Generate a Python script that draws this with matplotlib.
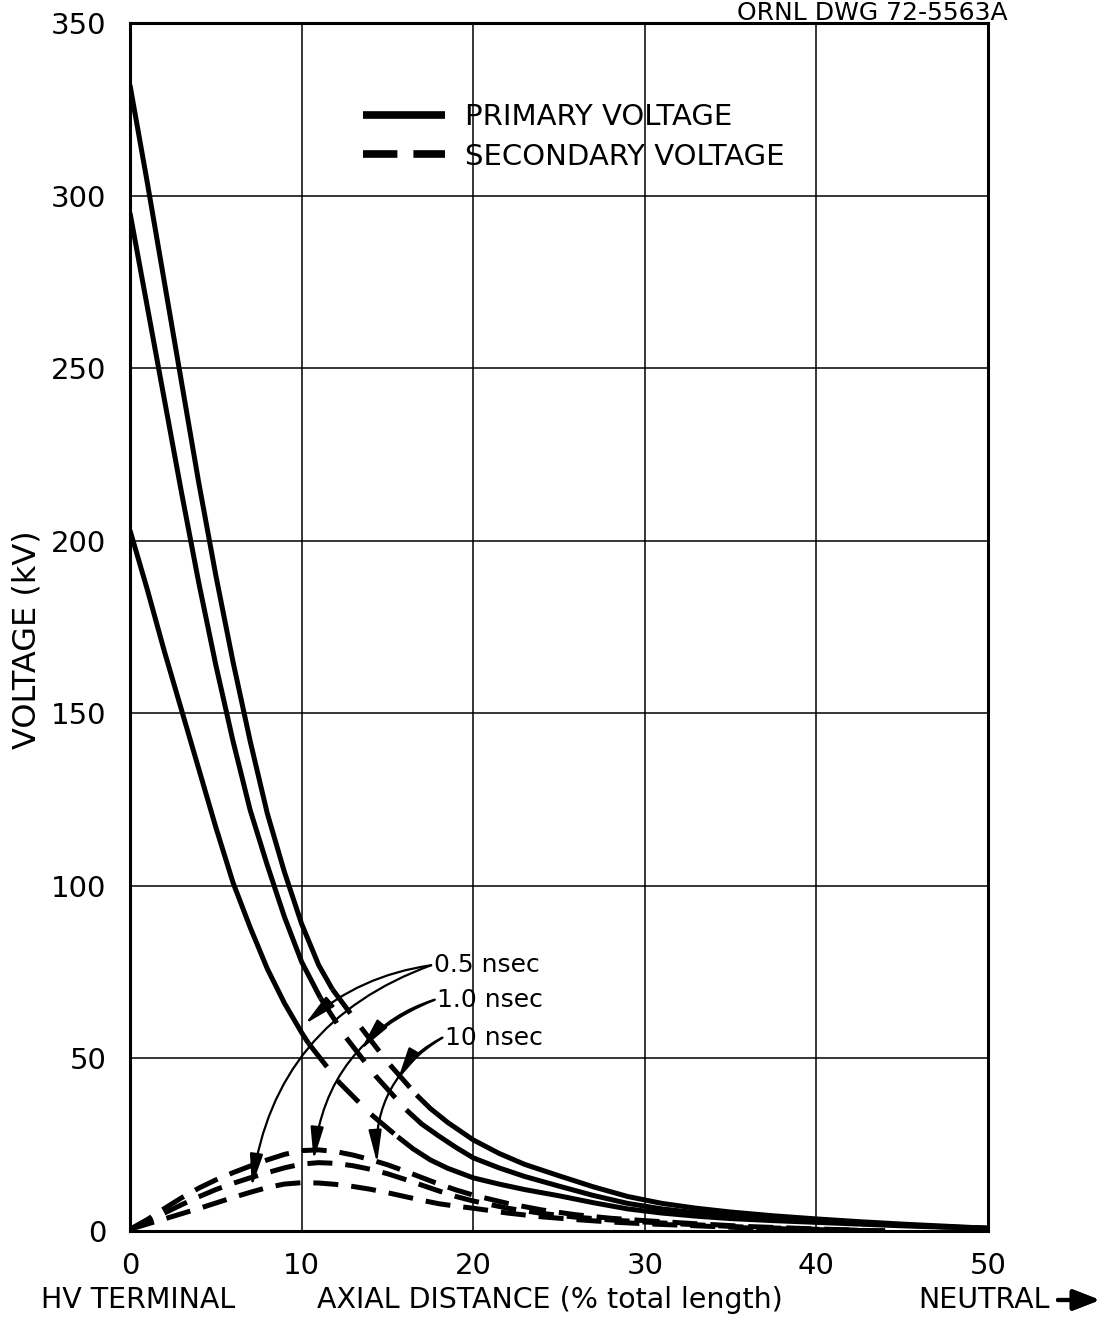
#Axial voltage distribution along the winding, primary vs secondary, for three rise times
#Values.

import matplotlib.pyplot as plt
from matplotlib.lines import Line2D

# -----------------------------
# Data
# -----------------------------
# primary voltage: solid near the HV terminal, dashed through the middle, solid tail
p05_head_x = [0, 1, 2, 3, 4, 5, 6, 7, 8, 9, 10, 10.4]
p05_head_y = [203, 186, 168, 151, 134, 117, 101, 88, 76, 66, 57.5, 54.4]
p05_mid_x = [10.4, 12.2, 14.0, 15.6]
p05_mid_y = [54.4, 43.0, 34.0, 27.3]
p05_tail_x = [15.6, 16.5, 17.5, 18.5, 20, 21.5, 23, 25, 27, 29, 31, 33, 35, 37.5, 40, 42.5, 45, 47.5, 50]
p05_tail_y = [27.3, 23.8, 20.6, 18.2, 15.4, 13.6, 12.0, 10.2, 8.2, 6.4, 5.2, 4.3, 3.6, 3.0, 2.5, 2.0, 1.5, 1.1, 0.8]

p10_head_x = [0, 1, 2, 3, 4, 5, 6, 7, 8, 9, 10, 11.1]
p10_head_y = [295, 268, 241, 214, 188, 164, 142, 122, 106, 91, 78, 67.5]
p10_mid_x = [11.1, 12.6, 14.3, 16.1]
p10_mid_y = [67.5, 56.0, 45.0, 35.1]
p10_tail_x = [16.1, 17, 18, 19, 20, 21.5, 23, 25, 27, 29, 31, 33, 35, 37.5, 40, 42.5, 45, 47.5, 50]
p10_tail_y = [35.1, 31.0, 27.5, 24.2, 21.2, 18.3, 15.8, 13.0, 10.3, 8.0, 6.4, 5.3, 4.4, 3.6, 2.9, 2.3, 1.7, 1.2, 0.8]

p100_head_x = [0, 1, 2, 3, 4, 5, 6, 7, 8, 9, 10, 11, 11.8]
p100_head_y = [332, 304, 275, 246, 217, 190, 165, 142, 121, 104, 89, 77, 70]
p100_mid_x = [11.8, 13.3, 15.0, 16.7]
p100_mid_y = [70.0, 60.0, 49.0, 39.4]
p100_tail_x = [16.7, 17.5, 18.5, 20, 21.5, 23, 25, 27, 29, 31, 33, 35, 37.5, 40, 42.5, 45, 47.5, 50]
p100_tail_y = [39.4, 35.5, 31.5, 26.4, 22.5, 19.3, 16.0, 12.8, 10.0, 8.0, 6.6, 5.5, 4.4, 3.5, 2.7, 2.0, 1.4, 0.8]

# secondary voltage
sec_x = [0, 1, 2, 3, 4, 5, 6, 7, 8, 9, 10, 11, 12, 13, 14, 15, 16, 17, 18, 19, 20,
         22, 24, 26, 28, 30, 33, 36, 40, 44]
s05_y = [0.5, 2.0, 3.5, 5.0, 6.5, 8.1, 9.7, 11.2, 12.6, 13.6, 14.0, 13.9, 13.5, 12.9, 12.1,
         11.1, 10.0, 8.9, 7.9, 7.2, 6.6, 5.2, 4.1, 3.3, 2.6, 2.1, 1.5, 0.9, 0.4, 0]
s10_y = [0.5, 2.8, 5.2, 7.6, 9.9, 12.0, 13.8, 15.4, 16.9, 18.3, 19.4, 19.8, 19.6, 18.9, 17.9,
         16.6, 15.0, 13.3, 11.6, 10.0, 8.7, 6.6, 5.1, 4.0, 3.2, 2.6, 1.8, 1.1, 0.5, 0]
s100_y = [0.5, 3.3, 6.5, 9.6, 12.4, 14.8, 16.9, 18.8, 20.6, 22.2, 23.3, 23.5, 23.0, 22.0, 20.7,
          19.2, 17.4, 15.5, 13.6, 11.9, 10.4, 8.0, 6.1, 4.7, 3.7, 3.0, 2.1, 1.3, 0.6, 0]

# labels and where their arrows point (primary tip, secondary tip)
rise_labels = ["0.5 nsec", "1.0 nsec", "10 nsec"]
label_x = [17.7, 17.9, 18.35]
label_y = [77.0, 67.0, 56.0]
tip_primary = [(10.2, 60.0), (13.45, 52.5), (15.6, 43.8)]
tip_secondary = [(7.1, 12.8), (10.7, 20.6), (14.4, 19.7)]

xticks = [0, 10, 20, 30, 40, 50]
yticks = [0, 50, 100, 150, 200, 250, 300, 350]

# -----------------------------
# Figure
# -----------------------------
plt.rcParams["font.family"] = "DejaVu Sans"
fig = plt.figure(figsize=(11.05, 13.17), dpi=100)
ax = fig.add_axes([130 / 1105, 86 / 1317, 858 / 1105, 1208 / 1317])

LW = 3.6
solid = dict(color="black", lw=LW, solid_capstyle="butt", solid_joinstyle="round")
pdash = dict(color="black", lw=LW, dashes=(6, 3.5), dash_capstyle="butt")
sdash = dict(color="black", lw=LW, dashes=(5, 2.6), dash_capstyle="butt")

for hx, hy, mx, my, tx, ty in [
    (p05_head_x, p05_head_y, p05_mid_x, p05_mid_y, p05_tail_x, p05_tail_y),
    (p10_head_x, p10_head_y, p10_mid_x, p10_mid_y, p10_tail_x, p10_tail_y),
    (p100_head_x, p100_head_y, p100_mid_x, p100_mid_y, p100_tail_x, p100_tail_y),
]:
    ax.plot(hx, hy, **solid)
    ax.plot(mx, my, **pdash)
    ax.plot(tx, ty, **solid)

for sy in [s05_y, s10_y, s100_y]:
    ax.plot(sec_x, sy, **sdash)

# arrows from each label to its two curves
ap = dict(arrowstyle="-|>,head_length=1.1,head_width=0.22", color="black",
          lw=1.6, mutation_scale=18, shrinkA=0, shrinkB=0)
for lab, lx, ly, tp, ts in zip(rise_labels, label_x, label_y, tip_primary, tip_secondary):
    ax.text(lx, ly, lab, fontsize=18, ha="left", va="center")
    start = (lx - 0.15, ly)
    ax.annotate("", xy=tp, xytext=start,
                arrowprops=dict(ap, connectionstyle="arc3,rad=0.15"))
    ax.annotate("", xy=ts, xytext=start,
                arrowprops=dict(ap, connectionstyle="arc3,rad=0.3"))

# legend
handles = [Line2D([], [], color="black", lw=5.5, solid_capstyle="butt"),
           Line2D([], [], color="black", lw=5.5, dashes=(4.5, 2.1), dash_capstyle="butt")]
ax.legend(handles, ["PRIMARY VOLTAGE", "SECONDARY VOLTAGE"], loc="upper left",
          bbox_to_anchor=(233 / 858, 1 - 80 / 1208), frameon=False, fontsize=21,
          handlelength=2.8, handletextpad=0.7, labelspacing=0.4, borderpad=0,
          borderaxespad=0)

ax.set_xlim(0, 50)
ax.set_ylim(0, 350)
ax.set_xticks(xticks)
ax.set_yticks(yticks)
ax.tick_params(length=0, labelsize=21)
ax.tick_params(axis="y", pad=17)
ax.tick_params(axis="x", pad=15)
ax.grid(True, color="black", lw=1.1)
for s in ax.spines.values():
    s.set_linewidth(2.2)

# axis texts
fig.text(27 / 1105, 1 - 640 / 1317, "VOLTAGE (kV)", rotation=90, fontsize=23,
         ha="center", va="center")
fig.text(138 / 1105, 1 - 1300 / 1317, "HV TERMINAL", fontsize=20.5, ha="center", va="center")
fig.text(550 / 1105, 1 - 1300 / 1317, "AXIAL DISTANCE (% total length)", fontsize=20.5,
         ha="center", va="center")
fig.text(918 / 1105, 1 - 1300 / 1317, "NEUTRAL", fontsize=20.5, ha="left", va="center")
fig.add_artist(plt.annotate("", xy=(1100 / 1105, 1 - 1300 / 1317),
                            xytext=(1058 / 1105, 1 - 1300 / 1317), xycoords="figure fraction",
                            arrowprops=dict(arrowstyle="-|>,head_length=0.9,head_width=0.35",
                                            color="black", lw=3, mutation_scale=18,
                                            shrinkA=0, shrinkB=0)))
fig.text(1008 / 1105, 1 - 1 / 1317, "ORNL DWG 72-5563A", fontsize=18, ha="right", va="top")

fig.savefig("out.png", dpi=100, facecolor="white")
